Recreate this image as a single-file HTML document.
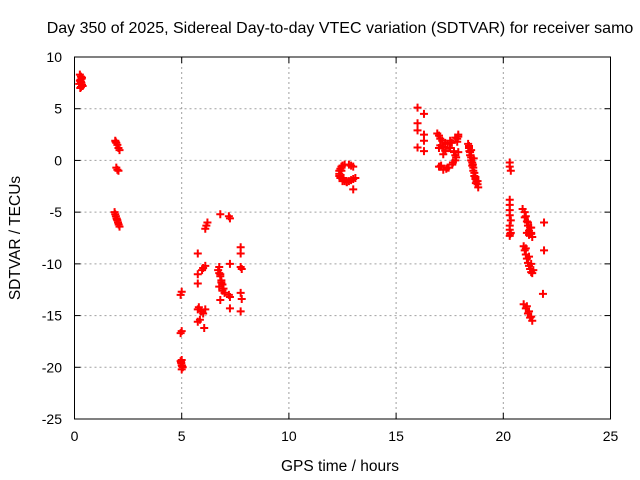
<!DOCTYPE html>
<html><head><meta charset="utf-8"><style>
html,body{margin:0;padding:0;background:#fff}
svg{display:block;font-family:"Liberation Sans",sans-serif}
</style></head><body>
<svg id="chart" width="640" height="480" viewBox="0 0 640 480">
<text x="340" y="33" font-size="16" text-anchor="middle" fill="#000">Day 350 of 2025, Sidereal Day-to-day VTEC variation (SDTVAR) for receiver samo</text>
<g id="grid"></g>
<g id="axes"></g>
<g id="points"></g>
<text x="340" y="471" font-size="15.5" text-anchor="middle">GPS time / hours</text>
<text transform="translate(20,238) rotate(-90)" font-size="15.5" text-anchor="middle">SDTVAR / TECUs</text>
</svg>
<script>
const xTicks = [0,5,10,15,20,25];
const yTicks = [10,5,0,-5,-10,-15,-20,-25];
const hours = [
0.25,0.3,0.28,0.32,0.35,0.3,0.22,0.38,0.27,0.33,
1.9,1.95,2.0,2.05,2.1,1.92,
1.95,2.0,2.05,
1.87,1.9,1.93,1.96,2.0,2.03,2.06,2.1,1.98,
5.0,4.95,5.0,4.95,5.0,4.98,5.02,5.0,4.97,
5.75,5.75,5.75,5.95,6.0,6.1,5.75,5.8,5.9,6.0,6.1,5.75,5.85,6.05,
6.1,6.15,6.2,
6.8,7.25,7.2,
6.7,6.75,6.8,6.85,6.9,6.95,7.0,6.75,6.85,6.8,7.25,7.25,7.25,7.2,
7.75,7.75,7.75,7.8,7.75,7.8,7.75,
12.4,12.35,12.4,12.5,12.6,12.8,13.0,12.6,12.8,13.0,12.45,12.7,13.0,
16.0,16.3,16.0,16.0,16.3,16.3,16.0,16.3,
16.92,17.06,17.29,17.52,17.76,17.9,17.1,17.34,17.62,17.76,17.76,17.06,17.29,17.52,17.2,17.4,17.0,17.7,17.85,17.9,
18.36,18.4,18.45,18.5,18.55,18.6,18.65,18.7,18.75,18.8,18.83,18.42,18.58,18.7,
20.3,20.3,20.35,
20.3,20.3,20.3,20.3,20.35,20.3,20.3,20.35,20.3,20.32,
20.9,21.0,21.05,21.1,21.15,21.2,21.3,21.35,21.3,21.2,21.1,
21.9,21.9,21.85,
20.95,21.0,21.05,21.1,21.15,21.2,21.25,21.3,21.35,
20.95,21.05,21.15,21.25,21.35,
12.5,12.45,12.9,12.35,12.35,12.5,12.7,12.9,13.1,12.55,
17.0,17.15,17.4,17.6,17.85,17.0,17.2,17.5,17.7,17.05,17.2,17.45,17.65,17.8,17.9,17.3,
18.4,18.45,18.5,18.55,18.6,18.65,18.72,18.8,18.5,18.62,
21.0,21.15,21.25,21.3,21.05,21.2,21.3,21.4,21.1,21.2,21.3,
0.25,0.35,0.3,
5.0,5.05,4.95,
6.8,6.9,6.75
];
const values = [
8.3,8.1,7.8,7.5,7.3,7.6,7.4,7.2,7.0,7.9,
1.9,1.7,1.5,1.2,1.0,1.8,
-0.7,-0.9,-1.0,
-5.0,-5.2,-5.4,-5.6,-5.8,-6.0,-6.2,-6.4,-5.7,
-12.7,-13.0,-16.5,-16.7,-19.3,-19.6,-19.9,-20.2,-19.5,
-9.0,-11.0,-11.9,-10.6,-10.4,-10.2,-14.4,-14.2,-14.6,-14.8,-14.4,-15.6,-15.4,-16.2,
-6.6,-6.3,-6.0,
-5.2,-5.6,-5.4,
-10.6,-10.9,-11.2,-11.6,-12.0,-12.4,-12.8,-10.3,-11.8,-13.5,-13.2,-14.3,-10.0,-13.0,
-8.4,-9.0,-10.3,-10.5,-12.8,-13.4,-14.6,
-0.8,-1.3,-1.7,-2.0,-2.0,-2.0,-1.8,-0.4,-0.4,-0.6,-1.0,-2.1,-2.8,
5.1,4.5,3.6,2.9,2.5,1.9,1.25,0.9,
2.6,2.1,1.7,1.9,2.2,2.5,-0.5,-0.8,-0.4,0.0,0.5,1.45,1.0,1.2,0.6,-0.7,-0.6,0.9,1.8,2.3,
1.6,1.2,0.8,0.3,-0.2,-0.7,-1.2,-1.6,-2.0,-2.3,-2.6,0.9,-0.4,-1.8,
-0.2,-0.6,-1.0,
-3.8,-4.3,-4.8,-5.3,-5.8,-6.3,-6.7,-7.0,-7.3,-7.1,
-4.7,-5.0,-5.4,-5.9,-6.3,-6.8,-7.1,-7.4,-6.5,-7.2,-7.0,
-6.0,-8.7,-12.9,
-8.3,-8.7,-9.1,-9.5,-9.9,-10.2,-10.5,-10.8,-10.9,
-13.9,-14.3,-14.8,-15.2,-15.5,
-0.5,-0.6,-0.5,-1.0,-1.5,-1.9,-2.1,-1.9,-1.7,-1.7,
2.4,1.9,1.6,1.7,2.1,1.2,1.3,1.2,0.8,-0.6,-0.9,-0.7,-0.2,0.3,0.8,0.9,
1.4,0.5,0.0,-0.5,-1.0,-1.5,-2.2,-2.0,1.0,0.2,
-5.5,-6.0,-6.5,-7.0,-8.5,-9.3,-10.0,-10.6,-14.1,-14.6,-15.1,
7.7,8.0,7.1,
-19.8,-20.0,-19.4,
-11.0,-12.6,-12.2
];
const L=74.5,R=610.5,T=57,B=419;
const xs=h=>L+(h-0)/25*(R-L);
const ys=v=>T+(10-v)/35*(B-T);
const NS="http://www.w3.org/2000/svg";
const grid=document.getElementById('grid'),axes=document.getElementById('axes'),pts=document.getElementById('points');
function mk(tag,attrs,parent){const e=document.createElementNS(NS,tag);for(const k in attrs)e.setAttribute(k,attrs[k]);parent.appendChild(e);return e;}
xTicks.forEach(t=>{
  const x=xs(t);
  if(t>0&&t<25){const g=mk('line',{x1:x,x2:x,y1:T,y2:B,stroke:'#a0a0a0','stroke-dasharray':'2,3'},grid);
  
  }
  mk('line',{x1:x,x2:x,y1:B,y2:B-6,stroke:'#000'},axes);
  mk('line',{x1:x,x2:x,y1:T,y2:T+6,stroke:'#000'},axes);
  const tx=mk('text',{x:x,y:B+22,'font-size':14,'text-anchor':'middle'},axes);
  tx.textContent=t;
  
  
});
yTicks.forEach(t=>{
  const y=ys(t);
  if(t<10&&t>-25){const g=mk('line',{x1:L,x2:R,y1:y,y2:y,stroke:'#a0a0a0','stroke-dasharray':'2,3'},grid);
  
  }
  mk('line',{x1:L,x2:L+6,y1:y,y2:y,stroke:'#000'},axes);
  mk('line',{x1:R,x2:R-6,y1:y,y2:y,stroke:'#000'},axes);
  const tx=mk('text',{x:62,y:y+5,'font-size':14,'text-anchor':'end'},axes);
  tx.textContent=t;
  
  
});
const box=mk('rect',{x:L,y:T,width:R-L,height:B-T,fill:'none',stroke:'#000'},axes);


hours.forEach((h,i)=>{
  const x=xs(h),y=ys(values[i]);
  const p=mk('path',{d:`M${x-4},${y}H${x+4}M${x},${y-4}V${y+4}`,stroke:'#ff0000','stroke-width':2,fill:'none'},pts);
  
  
});
</script>
</body></html>
